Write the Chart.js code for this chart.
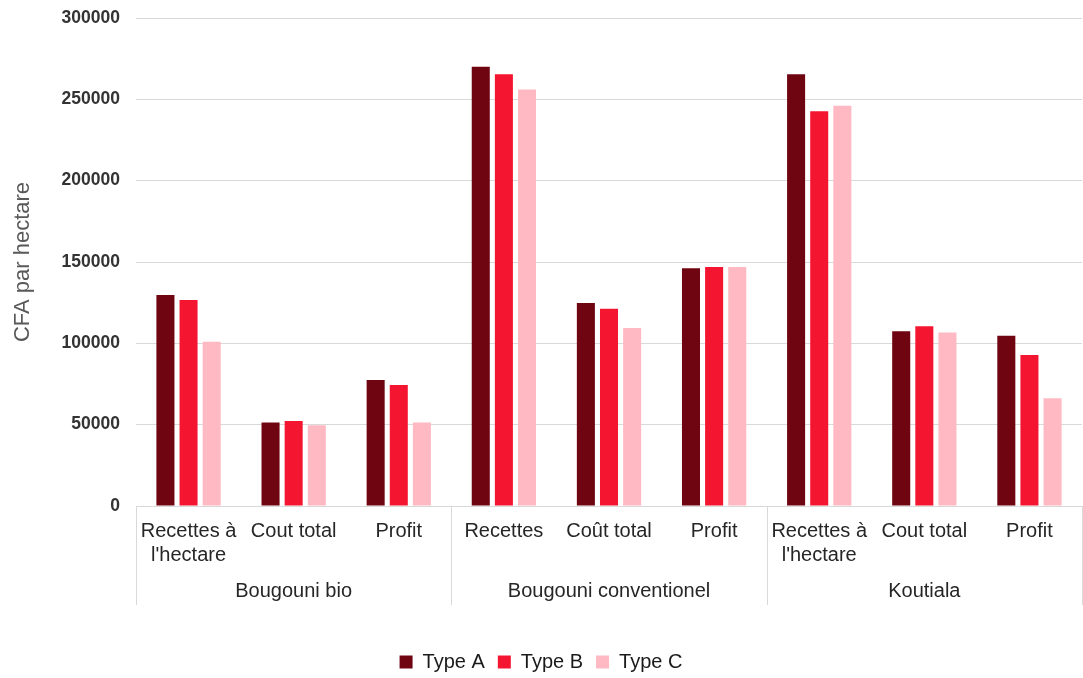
<!DOCTYPE html>
<html>
<head>
<meta charset="utf-8">
<script src="https://cdn.jsdelivr.net/npm/chart.js@4/dist/chart.umd.min.js"></script>
<style>
  html, body { margin: 0; padding: 0; background: #ffffff; }
  #wrap { width: 1083px; height: 678px; position: relative; }
</style>
</head>
<body>
<div id="wrap"><canvas id="c"></canvas></div>
<script>
// Regions (outer category level) and the indicators shown under each one
const groups = ['Bougouni bio', 'Bougouni conventionel', 'Koutiala'];
const groupSize = 3;
const categories = [
  ['Recettes à', "l'hectare"], 'Cout total', 'Profit',
  'Recettes', 'Coût total', 'Profit',
  ['Recettes à', "l'hectare"], 'Cout total', 'Profit'
];

// CFA per hectare by farm type
const typeA = [129700, 51400, 77400, 270000, 124800, 146100, 265400, 107400, 104700];
const typeB = [126600, 52200, 74400, 265400, 121300, 146900, 242600, 110500, 92800];
const typeC = [101000, 49600, 51400, 256100, 109400, 146900, 246100, 106600, 66200];

const seriesNames = ['Type A', 'Type B', 'Type C'];
const yTicks = [0, 50000, 100000, 150000, 200000, 250000, 300000];

const colors = ['#6e0510', '#f41630', '#ffb9c2'];
const gridGrey = '#d9d9d9';
const FONT = "'Liberation Sans', Arial, sans-serif";

// Draws the region separators and region names below the indicator labels
const groupAxisPlugin = {
  id: 'groupAxis',
  afterDraw(chart) {
    const x = chart.scales.x;
    const ctx = chart.ctx;
    const n = categories.length;
    const w = (x.right - x.left) / n;
    const top = chart.chartArea.bottom;
    const bottom = top + 99;
    ctx.save();
    ctx.strokeStyle = gridGrey;
    ctx.lineWidth = 1;
    for (let g = 0; g <= groups.length; g++) {
      const idx = Math.min(g * groupSize, n - 1);
      let px = x.getPixelForValue(idx) + (g * groupSize >= n ? w / 2 : -w / 2);
      px = Math.round(px) + 0.5;
      ctx.beginPath();
      ctx.moveTo(px, top);
      ctx.lineTo(px, bottom);
      ctx.stroke();
    }
    ctx.fillStyle = '#262626';
    ctx.font = '20px ' + FONT;
    ctx.textAlign = 'center';
    ctx.textBaseline = 'middle';
    groups.forEach((name, g) => {
      const a = x.getPixelForValue(g * groupSize);
      const b = x.getPixelForValue(g * groupSize + groupSize - 1);
      ctx.fillText(name, (a + b) / 2, top + 85);
    });
    ctx.restore();
  }
};

new Chart(document.getElementById('c'), {
  type: 'bar',
  data: {
    labels: categories,
    datasets: [typeA, typeB, typeC].map((vals, i) => ({
      label: seriesNames[i],
      data: vals,
      backgroundColor: colors[i],
      borderWidth: 0,
      categoryPercentage: 0.66,
      barPercentage: 0.78
    }))
  },
  options: {
    responsive: true,
    maintainAspectRatio: false,
    animation: false,
    layout: { padding: { top: 18, right: 1, bottom: -4, left: 0 } },
    plugins: {
      tooltip: { enabled: false },
      legend: {
        position: 'bottom',
        labels: {
          boxWidth: 13,
          boxHeight: 13,
          padding: 13,
          color: '#1a1a1a',
          font: { family: FONT, size: 20 }
        }
      }
    },
    scales: {
      x: {
        grid: { display: false, drawTicks: false },
        border: { display: false },
        ticks: {
          padding: 14,
          color: '#262626',
          maxRotation: 0,
          autoSkip: false,
          font: { family: FONT, size: 20, lineHeight: 1.18 }
        },
        afterFit(scale) { scale.height = 133; }
      },
      y: {
        min: 0,
        max: 300000,
        afterBuildTicks(scale) { scale.ticks = yTicks.map(v => ({ value: v })); },
        grid: { color: gridGrey, lineWidth: 1, drawTicks: false },
        border: { display: false },
        ticks: {
          padding: 16,
          color: '#333333',
          font: { family: FONT, size: 17.5, weight: 'bold' },
          callback: v => String(v)
        },
        title: {
          display: true,
          text: 'CFA par hectare',
          color: '#595959',
          padding: { top: 10, bottom: 0 },
          font: { family: FONT, size: 22 }
        },
        afterFit(scale) {
          scale.width = 136;
          scale.paddingTop = 0;
          scale.paddingBottom = 0;
        }
      }
    }
  },
  plugins: [groupAxisPlugin]
});
</script>
</body>
</html>
